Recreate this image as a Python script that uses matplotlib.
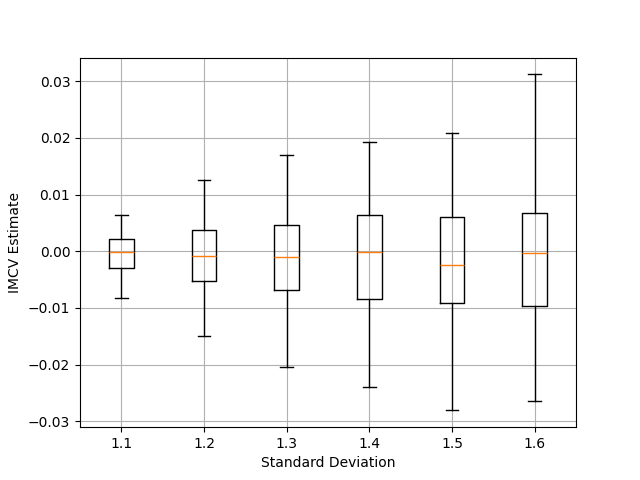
import matplotlib
matplotlib.use('Agg')
import matplotlib.pyplot as plt

labels = ['1.1', '1.2', '1.3', '1.4', '1.5', '1.6']
whislo = [-0.0083, -0.0150, -0.0204, -0.0240, -0.0281, -0.0265]
q1 = [-0.0030, -0.0052, -0.0068, -0.0085, -0.0092, -0.0097]
med = [-0.0002, -0.0009, -0.0011, -0.0002, -0.0025, -0.0004]
q3 = [0.0022, 0.0037, 0.0046, 0.0063, 0.0060, 0.0067]
whishi = [0.0063, 0.0125, 0.0169, 0.0192, 0.0209, 0.0312]

stats = []
for i in range(len(labels)):
    stats.append({'label': labels[i], 'whislo': whislo[i], 'q1': q1[i],
                  'med': med[i], 'q3': q3[i], 'whishi': whishi[i], 'fliers': []})

fig, ax = plt.subplots(figsize=(6.4, 4.8), dpi=100)
ax.bxp(stats, widths=0.3, showfliers=False)
ax.set_xlabel('Standard Deviation')
ax.set_ylabel('IMCV Estimate')
ax.grid(True)
fig.savefig('out.png')
